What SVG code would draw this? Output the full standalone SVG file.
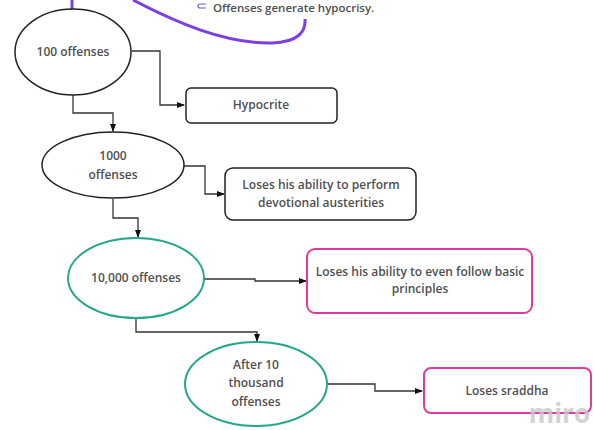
<svg xmlns="http://www.w3.org/2000/svg" width="594" height="430" viewBox="0 0 594 430">
<style>
.t{font-family:"Open Sans","Liberation Sans",sans-serif;font-size:12px;font-weight:600;fill:#505050;text-anchor:middle}
.blk{fill:#fff;stroke:#222;stroke-width:1.5}
.teal{fill:#fff;stroke:#26a68c;stroke-width:2}
.mag{fill:#fff;stroke:#df3aa0;stroke-width:2}
.c{fill:none;stroke:#333;stroke-width:1.3}
</style>
<defs>
<marker id="a" markerWidth="8" markerHeight="8" refX="7" refY="4" orient="auto" markerUnits="userSpaceOnUse">
<path d="M0,1 L8,4 L0,7 Z" fill="#111"/>
</marker>
</defs>
<rect width="594" height="430" fill="#fff"/>
<g id="note">
<path d="M72,0 L72,9" fill="none" stroke="#7a3fe6" stroke-width="3"/>
<path d="M133,0 C175,22 225,44 272,43 C298,42 306,32 305,19" fill="none" stroke="#7a3fe6" stroke-width="3"/>
<path d="M206,4 L200,4 Q198,4 198,6 Q198,8 200,8 L206,8" fill="none" stroke="#6b5fd0" stroke-width="1.2"/>
<text class="t" x="213" y="12" style="text-anchor:start;font-size:11.5px">Offenses generate hypocrisy.</text>
</g>
<g id="connectors">
<path class="c" d="M132,51 H160 V105 H184" marker-end="url(#a)"/>
<path class="c" d="M73,95 V113 H113 V131" marker-end="url(#a)"/>
<path class="c" d="M184,166 H205 V194 H224" marker-end="url(#a)"/>
<path class="c" d="M113,199 V218 H138 V237" marker-end="url(#a)"/>
<path class="c" d="M204,279 H255 V281 H306" marker-end="url(#a)"/>
<path class="c" d="M136,318 V332 H257 V341" marker-end="url(#a)"/>
<path class="c" d="M328,384 H375 V391 H422" marker-end="url(#a)"/>
</g>
<g id="n100">
<ellipse class="blk" cx="73" cy="52" rx="58" ry="43"/>
<text class="t" x="73" y="56">100 offenses</text>
</g>
<g id="hypocrite">
<rect class="blk" x="186" y="88" width="151" height="35" rx="5"/>
<text class="t" x="261" y="109">Hypocrite</text>
</g>
<g id="n1000">
<ellipse class="blk" cx="113" cy="165" rx="71" ry="33"/>
<text class="t" x="113" y="160">1000</text>
<text class="t" x="113" y="179">offenses</text>
</g>
<g id="austerities">
<rect class="blk" x="225" y="168" width="191" height="52" rx="8"/>
<text class="t" x="321" y="189">Loses his ability to perform</text>
<text class="t" x="321" y="207">devotional austerities</text>
</g>
<g id="n10000">
<ellipse class="teal" cx="136" cy="278" rx="68" ry="40"/>
<text class="t" x="136" y="282">10,000 offenses</text>
</g>
<g id="principles">
<rect class="mag" x="307" y="249" width="225" height="64" rx="8"/>
<text class="t" x="420" y="276">Loses his ability to even follow basic</text>
<text class="t" x="420" y="293">principles</text>
</g>
<g id="after10">
<ellipse class="teal" cx="256" cy="384" rx="71" ry="42"/>
<text class="t" x="256" y="369">After 10</text>
<text class="t" x="256" y="387">thousand</text>
<text class="t" x="256" y="406">offenses</text>
</g>
<g id="sraddha">
<rect class="mag" x="424" y="368" width="167" height="45" rx="7"/>
<text class="t" x="507" y="395">Loses sraddha</text>
</g>
<text x="590" y="423" style="font-family:'Open Sans','Liberation Sans',sans-serif;font-size:26px;font-weight:700;fill:#c8c8c8;text-anchor:end;opacity:0.8">miro</text>
</svg>
